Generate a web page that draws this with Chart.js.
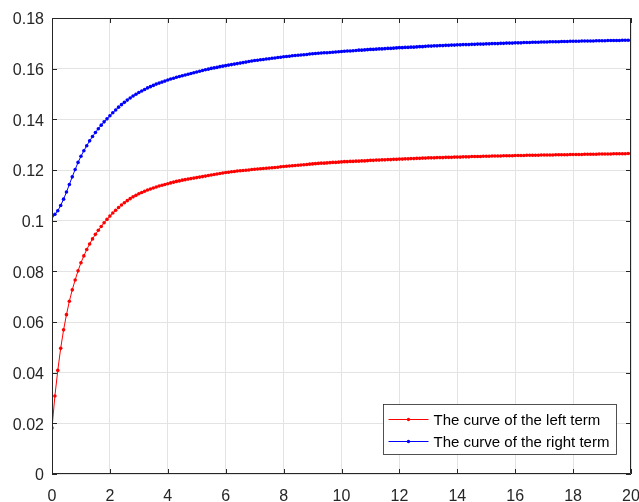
<!DOCTYPE html>
<html>
<head>
<meta charset="utf-8">
<script src="https://cdn.jsdelivr.net/npm/chart.js@4.4.1/dist/chart.umd.min.js"></script>
<style>
  html, body { margin: 0; padding: 0; background: #fff; }
  canvas { display: block; }
</style>
</head>
<body>
<canvas id="curveChart" width="639" height="502"></canvas>
<script>
// sample positions along x (step 0.1)
const xValues = [
  0, 0.1, 0.2, 0.3, 0.4, 0.5, 0.6, 0.7, 0.8, 0.9,
  1, 1.1, 1.2, 1.3, 1.4, 1.5, 1.6, 1.7, 1.8, 1.9,
  2, 2.1, 2.2, 2.3, 2.4, 2.5, 2.6, 2.7, 2.8, 2.9,
  3, 3.1, 3.2, 3.3, 3.4, 3.5, 3.6, 3.7, 3.8, 3.9,
  4, 4.1, 4.2, 4.3, 4.4, 4.5, 4.6, 4.7, 4.8, 4.9,
  5, 5.1, 5.2, 5.3, 5.4, 5.5, 5.6, 5.7, 5.8, 5.9,
  6, 6.1, 6.2, 6.3, 6.4, 6.5, 6.6, 6.7, 6.8, 6.9,
  7, 7.1, 7.2, 7.3, 7.4, 7.5, 7.6, 7.7, 7.8, 7.9,
  8, 8.1, 8.2, 8.3, 8.4, 8.5, 8.6, 8.7, 8.8, 8.9,
  9, 9.1, 9.2, 9.3, 9.4, 9.5, 9.6, 9.7, 9.8, 9.9,
  10, 10.1, 10.2, 10.3, 10.4, 10.5, 10.6, 10.7, 10.8, 10.9,
  11, 11.1, 11.2, 11.3, 11.4, 11.5, 11.6, 11.7, 11.8, 11.9,
  12, 12.1, 12.2, 12.3, 12.4, 12.5, 12.6, 12.7, 12.8, 12.9,
  13, 13.1, 13.2, 13.3, 13.4, 13.5, 13.6, 13.7, 13.8, 13.9,
  14, 14.1, 14.2, 14.3, 14.4, 14.5, 14.6, 14.7, 14.8, 14.9,
  15, 15.1, 15.2, 15.3, 15.4, 15.5, 15.6, 15.7, 15.8, 15.9,
  16, 16.1, 16.2, 16.3, 16.4, 16.5, 16.6, 16.7, 16.8, 16.9,
  17, 17.1, 17.2, 17.3, 17.4, 17.5, 17.6, 17.7, 17.8, 17.9,
  18, 18.1, 18.2, 18.3, 18.4, 18.5, 18.6, 18.7, 18.8, 18.9,
  19, 19.1, 19.2, 19.3, 19.4, 19.5, 19.6, 19.7, 19.8, 19.9,
  20
];

const leftTerm = [
  0.0182, 0.0308, 0.0409, 0.0496, 0.0569, 0.0629, 0.0682, 0.0727, 0.0766, 0.0802,
  0.0834, 0.0861, 0.0886, 0.0908, 0.0928, 0.0946, 0.0962, 0.0977, 0.0992, 0.1005,
  0.1018, 0.1030, 0.1041, 0.1052, 0.1062, 0.1071, 0.1079, 0.1087, 0.1094, 0.1100,
  0.1106, 0.1111, 0.1116, 0.1121, 0.1125, 0.1129, 0.1133, 0.1137, 0.1140, 0.1143,
  0.1146, 0.1149, 0.1152, 0.1155, 0.1157, 0.1160, 0.1162, 0.1164, 0.1166, 0.1168,
  0.1170, 0.1172, 0.1174, 0.1176, 0.1178, 0.1180, 0.1182, 0.1184, 0.1186, 0.1188,
  0.1190, 0.1191, 0.1193, 0.1194, 0.1196, 0.1197, 0.1198, 0.1199, 0.1200, 0.1202,
  0.1203, 0.1204, 0.1205, 0.1206, 0.1207, 0.1208, 0.1209, 0.1210, 0.1211, 0.1213,
  0.1214, 0.1215, 0.1216, 0.1217, 0.1218, 0.1219, 0.1220, 0.1221, 0.1222, 0.1223,
  0.1224, 0.1225, 0.1226, 0.1227, 0.1227, 0.1228, 0.1229, 0.1230, 0.1230, 0.1231,
  0.1232, 0.1233, 0.1233, 0.1234, 0.1234, 0.1235, 0.1235, 0.1236, 0.1236, 0.1237,
  0.1238, 0.1238, 0.1239, 0.1239, 0.1240, 0.1240, 0.1241, 0.1241, 0.1242, 0.1242,
  0.1243, 0.1243, 0.1244, 0.1244, 0.1245, 0.1245, 0.1246, 0.1246, 0.1247, 0.1247,
  0.1248, 0.1248, 0.1248, 0.1249, 0.1249, 0.1249, 0.1250, 0.1250, 0.1250, 0.1251,
  0.1251, 0.1251, 0.1252, 0.1252, 0.1252, 0.1253, 0.1253, 0.1253, 0.1253, 0.1254,
  0.1254, 0.1254, 0.1255, 0.1255, 0.1255, 0.1255, 0.1256, 0.1256, 0.1256, 0.1256,
  0.1257, 0.1257, 0.1257, 0.1257, 0.1258, 0.1258, 0.1258, 0.1258, 0.1258, 0.1259,
  0.1259, 0.1259, 0.1259, 0.1259, 0.1260, 0.1260, 0.1260, 0.1260, 0.1260, 0.1261,
  0.1261, 0.1261, 0.1261, 0.1261, 0.1262, 0.1262, 0.1262, 0.1262, 0.1262, 0.1263,
  0.1263, 0.1263, 0.1263, 0.1263, 0.1264, 0.1264, 0.1264, 0.1264, 0.1264, 0.1265,
  0.1265
];

const rightTerm = [
  0.1017, 0.1025, 0.1039, 0.1060, 0.1085, 0.1113, 0.1143, 0.1173, 0.1202, 0.1230,
  0.1254, 0.1276, 0.1296, 0.1315, 0.1332, 0.1348, 0.1363, 0.1377, 0.1390, 0.1402,
  0.1414, 0.1426, 0.1437, 0.1448, 0.1458, 0.1467, 0.1476, 0.1484, 0.1492, 0.1499,
  0.1506, 0.1512, 0.1518, 0.1524, 0.1529, 0.1534, 0.1539, 0.1543, 0.1547, 0.1551,
  0.1555, 0.1559, 0.1562, 0.1566, 0.1569, 0.1572, 0.1575, 0.1578, 0.1581, 0.1584,
  0.1587, 0.1590, 0.1593, 0.1596, 0.1598, 0.1601, 0.1603, 0.1605, 0.1608, 0.1610,
  0.1612, 0.1614, 0.1616, 0.1618, 0.1620, 0.1622, 0.1624, 0.1626, 0.1628, 0.1630,
  0.1632, 0.1633, 0.1635, 0.1636, 0.1638, 0.1639, 0.1641, 0.1642, 0.1644, 0.1645,
  0.1647, 0.1648, 0.1649, 0.1651, 0.1652, 0.1653, 0.1654, 0.1655, 0.1656, 0.1658,
  0.1659, 0.1660, 0.1661, 0.1662, 0.1663, 0.1663, 0.1664, 0.1665, 0.1666, 0.1667,
  0.1668, 0.1669, 0.1670, 0.1670, 0.1671, 0.1672, 0.1673, 0.1673, 0.1674, 0.1675,
  0.1676, 0.1676, 0.1677, 0.1678, 0.1678, 0.1679, 0.1680, 0.1680, 0.1681, 0.1682,
  0.1683, 0.1683, 0.1684, 0.1684, 0.1685, 0.1685, 0.1686, 0.1687, 0.1687, 0.1688,
  0.1689, 0.1689, 0.1690, 0.1690, 0.1691, 0.1691, 0.1692, 0.1692, 0.1693, 0.1693,
  0.1694, 0.1694, 0.1695, 0.1695, 0.1695, 0.1696, 0.1696, 0.1697, 0.1697, 0.1697,
  0.1698, 0.1698, 0.1699, 0.1699, 0.1699, 0.1700, 0.1700, 0.1701, 0.1701, 0.1701,
  0.1702, 0.1702, 0.1702, 0.1703, 0.1703, 0.1703, 0.1704, 0.1704, 0.1704, 0.1705,
  0.1705, 0.1705, 0.1706, 0.1706, 0.1706, 0.1706, 0.1707, 0.1707, 0.1707, 0.1708,
  0.1708, 0.1708, 0.1708, 0.1709, 0.1709, 0.1709, 0.1709, 0.1709, 0.1710, 0.1710,
  0.1710, 0.1710, 0.1711, 0.1711, 0.1711, 0.1711, 0.1711, 0.1712, 0.1712, 0.1712,
  0.1712
];

const seriesNames = ['The curve of the left term', 'The curve of the right term'];
const xTicks = { min: 0, max: 20, step: 2 };
const yTicks = { min: 0, max: 0.18, step: 0.02 };

const axisColor = '#262626';
const font = { family: '"Liberation Sans", Arial, sans-serif', size: 16 };

// box round the axes, inward ticks on all four sides, and the legend
const matlabFrame = {
    id: 'matlabFrame',
    afterDatasetsDraw(chart) {
        const { ctx, chartArea: a, scales } = chart;
        ctx.save();
        ctx.strokeStyle = axisColor;
        ctx.lineWidth = 1;
        ctx.beginPath();
        ctx.rect(Math.round(a.left) + 0.5, Math.round(a.top) + 0.5,
                 Math.round(a.width) - 1, Math.round(a.height) - 1);
        ctx.stroke();

        const len = 5;
        ctx.beginPath();
        scales.x.ticks.forEach(t => {
            const px = Math.round(scales.x.getPixelForValue(t.value)) + 0.5;
            ctx.moveTo(px, a.bottom); ctx.lineTo(px, a.bottom - len);
            ctx.moveTo(px, a.top); ctx.lineTo(px, a.top + len);
        });
        scales.y.ticks.forEach(t => {
            const py = Math.round(scales.y.getPixelForValue(t.value)) + 0.5;
            ctx.moveTo(a.left, py); ctx.lineTo(a.left + len, py);
            ctx.moveTo(a.right, py); ctx.lineTo(a.right - len, py);
        });
        ctx.stroke();

        // legend box in the lower right corner
        ctx.font = (font.size - 1) + 'px ' + font.family;
        const textW = Math.max(...chart.data.datasets.map(d => ctx.measureText(d.label).width));
        const boxW = 5 + 40 + 5 + textW + 7;
        const boxH = 50;
        const bx = Math.round(a.right - 15.5 - boxW) + 0.5;
        const by = Math.round(a.bottom - 20.5 - boxH) + 0.5;
        ctx.fillStyle = '#fff';
        ctx.fillRect(bx, by, boxW, boxH);
        ctx.strokeStyle = axisColor;
        ctx.lineWidth = 0.8;
        ctx.strokeRect(bx, by, boxW, boxH);

        chart.data.datasets.forEach((d, i) => {
            const y = by + 15 + i * 22;
            ctx.strokeStyle = d.borderColor;
            ctx.lineWidth = 1;
            ctx.beginPath();
            ctx.moveTo(bx + 5, y);
            ctx.lineTo(bx + 45, y);
            ctx.stroke();
            ctx.fillStyle = d.borderColor;
            ctx.beginPath();
            ctx.arc(bx + 25, y, 1.7, 0, Math.PI * 2);
            ctx.fill();
            ctx.fillStyle = '#000';
            ctx.textBaseline = 'middle';
            ctx.textAlign = 'left';
            ctx.fillText(d.label, bx + 50, y + 1);
        });
        ctx.restore();
    }
};

function series(label, ys, color) {
    return {
        label: label,
        data: xValues.map((x, i) => ({ x: x, y: ys[i] })),
        borderColor: color,
        backgroundColor: color,
        borderWidth: 1,
        pointRadius: 1.8,
        pointBorderWidth: 0,
        pointBackgroundColor: color,
        tension: 0
    };
}

const ctx = document.getElementById('curveChart').getContext('2d');
const curveChart = new Chart(ctx, {
    type: 'line',
    data: {
        datasets: [
            series(seriesNames[0], leftTerm, '#ff0000'),
            series(seriesNames[1], rightTerm, '#0000ff')
        ]
    },
    plugins: [matlabFrame],
    options: {
        responsive: false,
        animation: false,
        devicePixelRatio: 1,
        layout: { padding: { top: 18, right: 8, left: 0, bottom: 0 } },
        plugins: {
            legend: { display: false },
            tooltip: { enabled: false }
        },
        scales: {
            x: {
                type: 'linear',
                min: xTicks.min,
                max: xTicks.max,
                ticks: {
                    stepSize: xTicks.step,
                    color: axisColor,
                    font: font,
                    padding: 13,
                    maxRotation: 0,
                    autoSkip: false
                },
                grid: { color: '#e3e3e3', drawTicks: false },
                border: { display: false },
                afterFit: s => {
                    s.height = 28;
                    s.paddingLeft = 0;
                    s.paddingRight = 0;
                }
            },
            y: {
                type: 'linear',
                min: yTicks.min,
                max: yTicks.max,
                ticks: {
                    stepSize: yTicks.step,
                    color: axisColor,
                    font: font,
                    padding: 8,
                    labelOffset: 2,
                    callback: v => String(Number(v.toFixed(2)))
                },
                grid: { color: '#e3e3e3', drawTicks: false },
                border: { display: false },
                afterFit: s => {
                    s.width = 52;
                    s.paddingTop = 0;
                    s.paddingBottom = 0;
                }
            }
        }
    }
});
</script>
</body>
</html>
